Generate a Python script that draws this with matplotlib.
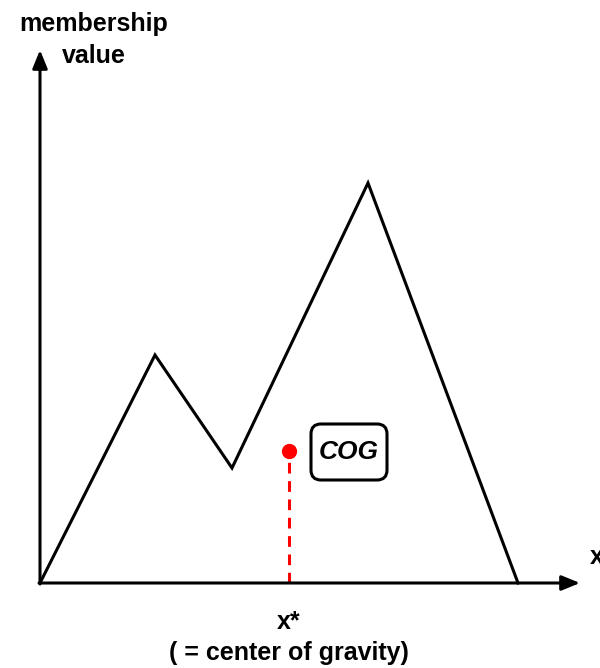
import matplotlib.pyplot as plt
from matplotlib.patches import FancyBboxPatch

# membership function outline (arbitrary units, origin at axis corner)
mf_x = [0, 115, 192, 328, 478]
mf_y = [0, 228, 115, 400, 0]

# centre of gravity
cog_x = 249
cog_y = 132

plt.rcParams['font.family'] = ['Liberation Sans', 'DejaVu Sans']

fig = plt.figure(figsize=(6, 6.68), dpi=100)
ax = fig.add_axes([0, 0, 1, 1])
ax.set_xlim(-40, 560)
ax.set_ylim(-85, 583)
ax.axis('off')

arrow = dict(arrowstyle='-|>,head_length=1.1,head_width=0.45', color='black', lw=2.2,
             shrinkA=0, shrinkB=0)
ax.annotate('', xy=(0, 533), xytext=(0, -1), arrowprops=arrow)
ax.annotate('', xy=(540, 0), xytext=(-1, 0), arrowprops=arrow)

ax.plot(mf_x, mf_y, color='black', lw=2.2, solid_joinstyle='miter', zorder=3)

ax.plot([cog_x, cog_x], [0, cog_y], color='#ff0000', lw=2.2, ls=(0, (3.5, 2.5)), zorder=2)
ax.plot([cog_x], [cog_y], 'o', color='#ff0000', ms=10, zorder=4)

box = FancyBboxPatch((271, 103), 76, 56, boxstyle='round,pad=0,rounding_size=10',
                     fc='white', ec='black', lw=2.2, zorder=3)
ax.add_patch(box)
ax.text(309, 131, 'COG', ha='center', va='center', fontsize=19, fontweight='bold',
        style='italic', zorder=4)

ax.text(54, 543, 'membership\nvalue', ha='center', va='center', fontsize=18,
        fontweight='bold', linespacing=1.45)
ax.text(550, 26, 'x', ha='left', va='center', fontsize=18, fontweight='bold')
ax.text(cog_x, -39, 'x*', ha='center', va='center', fontsize=18, fontweight='bold')
ax.text(cog_x, -70, '( = center of gravity)', ha='center', va='center', fontsize=18,
        fontweight='bold')

fig.savefig('out.png', dpi=100)
